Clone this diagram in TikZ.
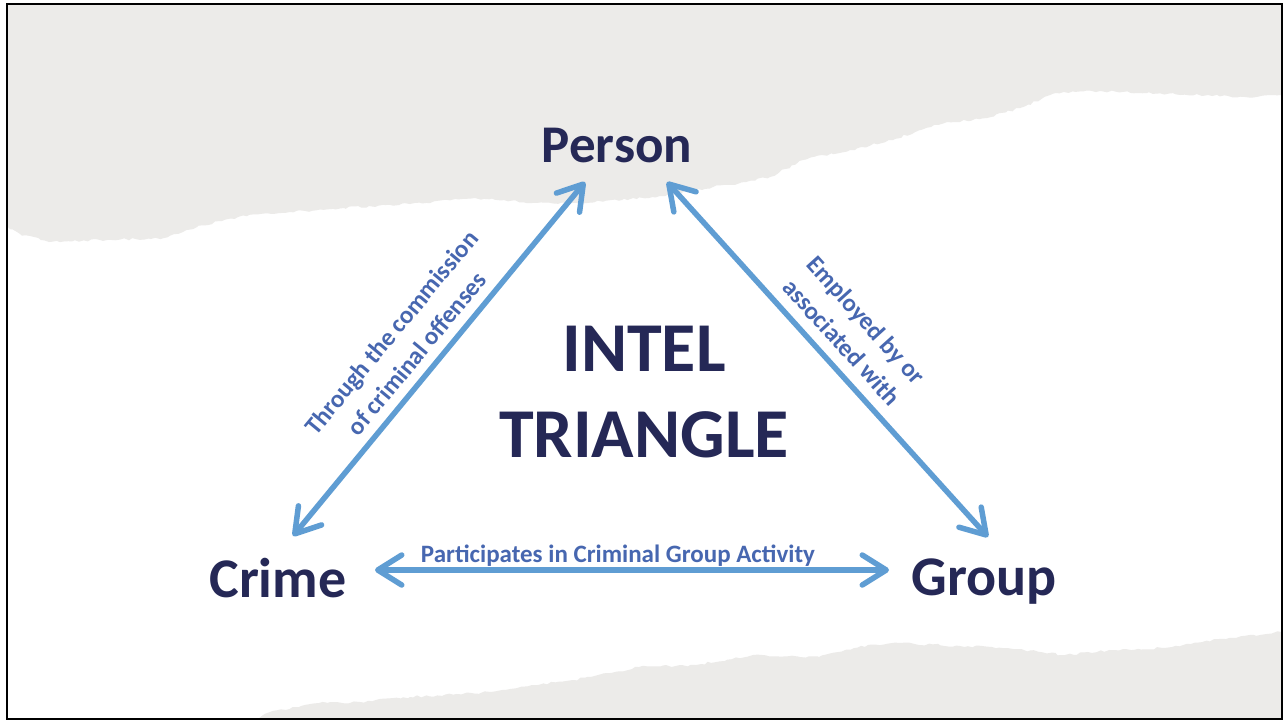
\documentclass[tikz,border=0pt]{standalone}
\usepackage{fontspec}
\setmainfont{Carlito}
\usetikzlibrary{arrows.meta,decorations.pathmorphing}
\definecolor{paper}{HTML}{ECEBE9}
\definecolor{navy}{HTML}{252856}
\definecolor{arrowblue}{HTML}{5F9DD3}
\definecolor{labelblue}{HTML}{4767B0}
\tikzset{
  vertex/.style={font=\fontsize{56}{60}\selectfont\bfseries, text=navy, inner sep=0pt, anchor=base},
  titletext/.style={font=\fontsize{70}{86}\selectfont\bfseries, text=navy, inner sep=0pt, align=center},
  edgelabel/.style={font=\fontsize{25}{33}\selectfont\bfseries, text=labelblue, inner sep=0pt, align=center},
  link/.style={draw=arrowblue, line width=5.5pt, {Straight Barb[length=24pt,width=30pt,round]}-{Straight Barb[length=24pt,width=30pt,round]}},
  torn/.style={decoration={random steps,segment length=4pt,amplitude=1.2pt}}
}
\begin{document}
\begin{tikzpicture}[x=1pt,y=-1pt]
\pgfmathsetseed{11}
\useasboundingbox (0,0) rectangle (1284,721);
\fill[white] (0,0) rectangle (1284,721);
% top torn paper
\fill[paper] (7,4) -- (1282,4) -- (1282,95)
  decorate[torn]{ -- (1245,97) -- (1147,93) -- (1100,91) -- (1057,93) -- (1020,108) -- (991,117) -- (934,125) -- (893,140) -- (850,150) -- (803,160) -- (770,177) -- (740,183) -- (713,187) -- (660,196) -- (622,200) -- (573,203) -- (532,203) -- (475,198) -- (410,204) -- (344,208) -- (290,212) -- (238,217) -- (197,227) -- (164,238) -- (100,240) -- (49,242) -- (20,234) -- (7,226)} -- cycle;
% bottom torn paper
\fill[paper] (258,719)
  decorate[torn]{ -- (270,712) -- (319,703) -- (360,702) -- (410,697) -- (491,692) -- (532,685) -- (573,680) -- (639,667) -- (696,665) -- (753,655) -- (819,657) -- (868,645) -- (901,643) -- (960,646) -- (1007,648) -- (1065,655) -- (1114,650) -- (1163,648) -- (1229,638) -- (1282,632)} -- (1282,719) -- cycle;
% frame
\draw[black, line width=2.5pt] (7,4) rectangle (1282,719);

% vertices
\node[vertex, font=\fontsize{53}{60}\selectfont\bfseries] (person) at (617,162) {Person};
\node[vertex] (crime) at (278,597) {Crime};
\node[vertex] (group) at (984,595) {Group};
\node[titletext] (title) at (644,392) {INTEL\\TRIANGLE};

% arrow tips
\coordinate (pl) at (585,182);
\coordinate (pr) at (667,182);
\coordinate (cl) at (293,536);
\coordinate (gr) at (988,537);
\coordinate (ch) at (375,570);
\coordinate (gh) at (889,570);

\draw[link] (cl) -- (pl);
\draw[link] (pr) -- (gr);
\draw[link] (ch) -- (gh);

% edge labels
\node[edgelabel, rotate=50.4] (lab1) at (404,343) {Through the commission\\of criminal offenses};
\node[edgelabel, rotate=-47.9] (lab2) at (854,331) {Employed by or\\associated with};
\node[edgelabel, anchor=base] (lab3) at (618,562) {Participates in Criminal Group Activity};
\end{tikzpicture}
\end{document}
